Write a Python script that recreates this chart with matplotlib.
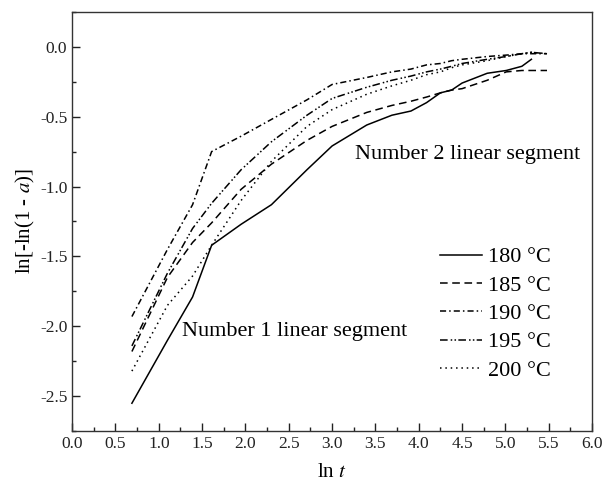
import matplotlib
matplotlib.use('Agg')
import matplotlib.pyplot as plt
from matplotlib.ticker import MultipleLocator

plt.rcParams['font.family'] = ['Liberation Serif', 'DejaVu Serif']
plt.rcParams['mathtext.fontset'] = 'stix'
plt.rcParams['axes.unicode_minus'] = False

# ln t values (t = 2 ... 240 min)
ln_t = [0.69, 1.10, 1.39, 1.61, 1.95, 2.30, 2.71, 3.00, 3.40, 3.69,
        3.91, 4.09, 4.25, 4.38, 4.50, 4.79, 5.01, 5.19, 5.30, 5.48]

y_180 = [-2.55, -2.10, -1.79, -1.42, -1.27, -1.13, -0.88, -0.71, -0.56, -0.49,
         -0.46, -0.40, -0.33, -0.31, -0.26, -0.19, -0.17, -0.14, -0.09]
y_185 = [-2.18, -1.65, -1.40, -1.26, -1.02, -0.84, -0.67, -0.57, -0.47, -0.42,
         -0.39, -0.36, -0.33, -0.31, -0.30, -0.24, -0.18, -0.17, -0.17, -0.17]
y_190 = [-1.93, -1.45, -1.13, -0.75, -0.64, -0.52, -0.38, -0.27, -0.22, -0.18,
         -0.16, -0.13, -0.12, -0.10, -0.09, -0.07, -0.06, -0.05, -0.05, -0.05]
y_195 = [-2.14, -1.62, -1.30, -1.12, -0.88, -0.68, -0.49, -0.37, -0.29, -0.24,
         -0.21, -0.18, -0.16, -0.14, -0.12, -0.09, -0.07, -0.05, -0.04, -0.05]
y_200 = [-2.32, -1.85, -1.64, -1.42, -1.10, -0.82, -0.57, -0.45, -0.34, -0.28,
         -0.24, -0.20, -0.18, -0.15, -0.13, -0.10, -0.07, -0.05, -0.04, -0.05]

labels = ['180 \u00b0C', '185 \u00b0C', '190 \u00b0C', '195 \u00b0C', '200 \u00b0C']

fig = plt.figure(figsize=(6.06, 4.90), dpi=100)
ax = fig.add_axes([0.119, 0.120, 0.858, 0.856])

styles = [
    dict(linestyle='-'),
    dict(linestyle=(0, (5, 3))),
    dict(linestyle=(0, (4, 2, 1, 2))),
    dict(linestyle=(0, (5, 2, 1, 1.5, 1, 1.5))),
    dict(linestyle=(0, (1, 2.5))),
]
series = [y_180, y_185, y_190, y_195, y_200]
for ys, lab, st in zip(series, labels, styles):
    ax.plot(ln_t[:len(ys)], ys, color='black', linewidth=1.1, label=lab, **st)

ax.set_xlim(0, 6)
ax.set_ylim(-2.75, 0.25)
ax.xaxis.set_major_locator(MultipleLocator(0.5))
ax.xaxis.set_minor_locator(MultipleLocator(0.25))
ax.yaxis.set_major_locator(MultipleLocator(0.5))
ax.yaxis.set_minor_locator(MultipleLocator(0.25))
ax.tick_params(which='both', direction='in', top=False, right=False,
               labelsize=12.5, colors='#222222')
ax.tick_params(which='major', length=6, width=1)
ax.tick_params(which='minor', length=3, width=1)
for sp in ax.spines.values():
    sp.set_linewidth(1)
    sp.set_color('#333333')

ax.set_xlabel('ln $t$', fontsize=15, labelpad=8)
ax.set_ylabel('ln[-ln(1 - $a$)]', fontsize=15, labelpad=2)

ax.text(3.27, -0.77, 'Number 2 linear segment', fontsize=16, va='center')
ax.text(1.27, -2.04, 'Number 1 linear segment', fontsize=16, va='center')

ax.legend(loc='center right', bbox_to_anchor=(0.96, 0.28), frameon=False,
          fontsize=16, handlelength=1.9, handletextpad=0.3, labelspacing=0.35)

fig.savefig('out.png', dpi=100)
